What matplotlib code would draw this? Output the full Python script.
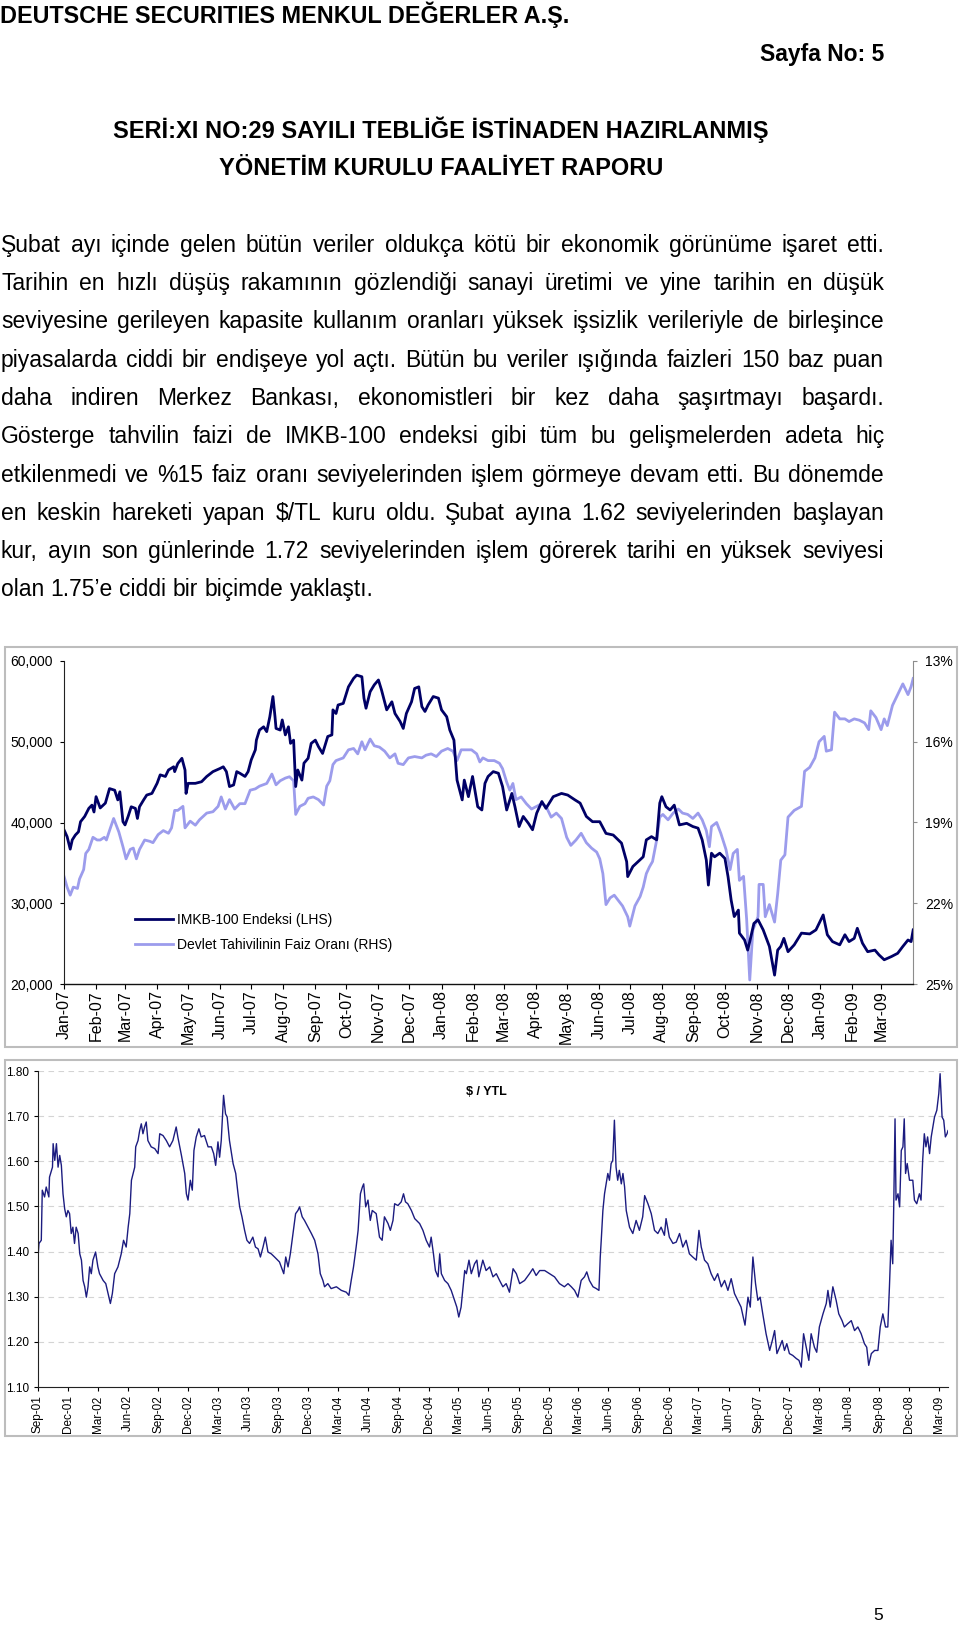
import numpy as np
import matplotlib
matplotlib.use('Agg')
import matplotlib.pyplot as plt
import matplotlib.dates as mdates
from matplotlib.patches import Rectangle
from matplotlib.ticker import FuncFormatter

# ---------------- data ----------------
header_title = "DEUTSCHE SECURITIES MENKUL DEĞERLER A.Ş."
page_label = "Sayfa No: 5"
title_lines = ["SERİ:XI NO:29 SAYILI TEBLİĞE İSTİNADEN HAZIRLANMIŞ",
               "YÖNETİM KURULU FAALİYET RAPORU"]
body_lines = [
    "Şubat ayı içinde gelen bütün veriler oldukça kötü bir ekonomik görünüme işaret etti.",
    "Tarihin en hızlı düşüş rakamının gözlendiği sanayi üretimi ve yine tarihin en düşük",
    "seviyesine gerileyen kapasite kullanım oranları yüksek işsizlik verileriyle de birleşince",
    "piyasalarda ciddi bir endişeye yol açtı. Bütün bu veriler ışığında faizleri 150 baz puan",
    "daha indiren Merkez Bankası, ekonomistleri bir kez daha şaşırtmayı başardı.",
    "Gösterge tahvilin faizi de IMKB-100 endeksi gibi tüm bu gelişmelerden adeta hiç",
    "etkilenmedi ve %15 faiz oranı seviyelerinden işlem görmeye devam etti. Bu dönemde",
    "en keskin hareketi yapan $/TL kuru oldu. Şubat ayına 1.62 seviyelerinden başlayan",
    "kur, ayın son günlerinde 1.72 seviyelerinden işlem görerek tarihi en yüksek seviyesi",
    "olan 1.75’e ciddi bir biçimde yaklaştı.",
]
page_number = "5"

# Chart 1: IMKB-100 index (LHS), days since 2007-01-01
chart1_start = "2007-01-01"
imkb_day = [0, 3, 6, 8, 11, 14, 16, 20, 24, 27, 29, 31, 35, 40, 44, 49, 52, 54, 57, 59,
            62, 65, 69, 71, 73, 77, 80, 85, 90, 93, 98, 101, 106, 107, 110, 114, 117, 118, 120, 127,
            133, 138, 144, 151, 154, 157, 160, 164, 167, 170, 175, 178, 181, 185, 186, 189, 193, 196, 199, 202,
            204, 205, 209, 211, 214, 217, 219, 222, 224, 226, 230, 232, 236, 239, 243, 246, 250, 255, 259, 260,
            263, 265, 270, 275, 280, 283, 288, 290, 292, 296, 300, 304, 307, 312, 317, 320, 325, 328, 331, 336,
            339, 343, 346, 349, 352, 357, 362, 365, 370, 373, 377, 380, 385, 387, 391, 395, 400,
            404, 407, 410, 415, 420, 424, 428, 433, 436, 440, 444, 449, 453, 457, 462, 466, 473, 481, 487,
            494, 499, 505, 511, 518, 524, 531, 539, 544, 545, 550, 555, 560, 563, 568, 573, 576, 578, 582, 586,
            590, 595, 602, 608, 613, 617, 621, 623, 626, 629, 634, 639, 642, 645, 648, 652, 653, 658, 661, 663,
            667, 671, 676, 682, 687, 690, 693, 696, 700, 706, 713, 721, 727, 734, 738, 743, 750, 755, 759, 764,
            767, 772, 777, 784, 788, 793, 800, 806, 811, 816, 819, 821]
imkb_val = [39100, 38250, 36700, 37850, 38450, 38850, 40100, 40750, 41750, 42150, 41300, 43200, 41800, 42400, 44200, 44000, 42800, 43800, 40100, 39700,
            40750, 41950, 41750, 40500, 41950, 42800, 43400, 43600, 44850, 45900, 45700, 46500, 46900, 46300, 47300, 47950, 46500, 43600, 44850, 44850,
            45050, 45700, 46300, 46700, 46900, 46300, 44450, 44650, 46300, 46100, 45700, 46300, 47750, 49000, 50200, 51450, 51850, 51250, 53100, 55600,
            53100, 51650, 51450, 52700, 50850, 51850, 49800, 50200, 44450, 46500, 45250, 47350, 47950, 49800, 50200, 49400, 48550, 50650, 50850, 53950,
            53500, 54550, 54750, 56800, 57850, 58250, 58050, 55400, 54150, 56200, 57050, 57650, 56400, 53950, 54950, 53500, 52500, 51650, 53500, 54950,
            56600, 56800, 54350, 53750, 54550, 55600, 55400, 53950, 53100, 51450, 50200, 45250, 42800, 45250, 43200, 45700, 41950,
            41550, 44850, 45700, 46300, 46100, 44450, 41550, 43600, 41950, 39500, 40750, 39900, 39100, 41150, 42600, 41750, 43200, 43600, 43400,
            42800, 42400, 40750, 40100, 40100, 38650, 38450, 37450, 35150, 33300, 34550, 35150, 35750, 37850, 38250, 37850, 42400, 43200, 41950, 41550,
            42150, 39700, 39900, 39500, 39300, 37850, 35350, 32250, 36200, 35750, 36200, 35550, 33300, 30400, 28350, 29150, 26300, 25450, 24200, 25250,
            27500, 27950, 26700, 24650, 21100, 24200, 24650, 25650, 24000, 24850, 26300, 26200, 26700, 28550, 26100, 25250, 24850, 26100, 25250, 25650,
            26900, 25050, 24000, 24200, 23600, 23000, 23400, 23800, 24650, 25450, 25250, 26700]

# Chart 1: government bond rate % (RHS, inverted)
rate_day = [0, 3, 6, 9, 13, 15, 19, 21, 24, 28, 32, 35, 39, 41, 44, 48, 51, 53, 57, 60,
            64, 67, 70, 73, 78, 83, 86, 91, 96, 101, 104, 107, 110, 115, 117, 122, 127, 131, 138, 144,
            149, 152, 156, 160, 165, 170, 175, 180, 185, 189, 196, 201, 205, 209, 214, 218, 222, 224, 228, 233,
            236, 241, 246, 251, 254, 257, 260, 263, 270, 275, 280, 284, 288, 291, 296, 300, 305, 310, 315, 320,
            323, 328, 333, 339, 346, 350, 355, 360, 365, 371, 376, 380, 384, 389, 394, 399, 402,
            405, 410, 416, 421, 424, 428, 431, 434, 437, 442, 447, 452, 457, 462, 466, 471, 476, 481, 486,
            490, 495, 500, 505, 510, 515, 518, 521, 524, 528, 532, 537, 540, 545, 547, 552, 557, 560, 563, 566,
            569, 573, 576, 579, 584, 589, 594, 598, 603, 608, 613, 617, 621, 624, 626, 631, 635, 640, 644, 647,
            651, 653, 657, 660, 663, 666, 671, 672, 676, 678, 682, 687, 690, 693, 697, 700, 706, 713, 716, 721,
            726, 730, 735, 737, 742, 745, 750, 755, 759, 764, 769, 774, 778, 780, 785, 790, 793, 796, 801, 806,
            811, 816, 819, 821]
rate_val = [21.0, 21.4, 21.7, 21.4, 21.45, 21.1, 20.75, 20.15, 20.0, 19.55, 19.65, 19.65, 19.55, 19.65, 19.3, 18.85, 19.15, 19.35, 19.9, 20.35,
            20.0, 19.95, 20.35, 20.0, 19.65, 19.7, 19.75, 19.45, 19.3, 19.4, 19.2, 18.55, 18.55, 18.4, 19.2, 18.95, 19.1, 18.9, 18.65, 18.6,
            18.4, 18.05, 18.5, 18.15, 18.5, 18.3, 18.3, 17.8, 17.75, 17.65, 17.55, 17.2, 17.6, 17.45, 17.35, 17.3, 17.45, 18.7, 18.4, 18.3,
            18.1, 18.05, 18.15, 18.35, 17.65, 17.45, 16.85, 16.7, 16.6, 16.3, 16.25, 16.45, 16.0, 16.3, 15.9, 16.15, 16.2, 16.35, 16.6, 16.45,
            16.8, 16.85, 16.6, 16.55, 16.6, 16.5, 16.45, 16.55, 16.35, 16.25, 16.35, 16.7, 16.3, 16.3, 16.3, 16.45, 16.75,
            16.6, 16.7, 16.7, 16.8, 17.0, 17.5, 17.8, 17.55, 18.15, 18.05, 18.3, 18.5, 18.4, 18.3, 18.4, 18.8, 18.65, 18.85, 19.55,
            19.85, 19.65, 19.4, 19.75, 19.95, 20.1, 20.35, 20.9, 22.05, 21.8, 21.7, 21.95, 22.1, 22.5, 22.85, 22.1, 21.75, 21.4, 20.9, 20.65,
            20.45, 19.65, 18.8, 18.7, 18.9, 18.65, 18.5, 18.65, 18.7, 18.85, 18.65, 18.9, 19.3, 19.9, 19.15, 19.0, 19.4, 20.0, 20.75, 20.15,
            20.0, 21.15, 21.0, 22.6, 24.85, 23.0, 22.5, 21.3, 21.3, 22.5, 22.05, 22.7, 21.65, 20.4, 20.2, 18.8, 18.55, 18.4, 17.1, 16.95,
            16.6, 16.0, 15.8, 16.35, 16.3, 14.9, 15.15, 15.15, 15.25, 15.15, 15.2, 15.3, 15.55, 14.85, 15.1, 15.55, 15.15, 15.4, 14.65, 14.25,
            13.85, 14.25, 13.95, 13.65]

# Chart 2: USD / YTL, days since 2001-09-01
chart2_start = "2001-09-01"
usd_day = [0, 3, 10, 13, 20, 25, 33, 35, 44, 46, 51, 56, 61, 66, 71, 76, 81, 86, 91, 96,
           101, 106, 111, 116, 122, 127, 132, 137, 142, 147, 152, 157, 162, 167, 175, 182, 187, 198, 206, 213,
           220, 226, 233, 243, 253, 260, 268, 274, 279, 284, 289, 294, 297, 304, 309, 314, 319, 324, 329, 334,
           344, 355, 365, 370, 380, 390, 400, 410, 420, 425, 436, 446, 451, 456, 463, 469, 474, 481, 489, 496,
           506, 517, 527, 534, 540, 547, 552, 557, 564, 570, 575, 582, 593, 601, 608, 613, 620, 628, 635, 643,
           653, 661, 669, 676, 684, 691, 699, 709, 719, 734, 747, 753, 760, 767, 775, 783, 790, 795, 803, 810,
           821, 831, 841, 851, 858, 866, 871, 881, 891, 907, 922, 937, 945, 952, 959, 967, 973, 980, 986, 990,
           996, 1003, 1010, 1016, 1028, 1038, 1046, 1053, 1064, 1071, 1079, 1084, 1094, 1104, 1111, 1117, 1124, 1135, 1145, 1160,
           1170, 1180, 1190, 1195, 1202, 1208, 1216, 1221, 1226, 1236, 1246, 1256, 1266, 1273, 1279, 1286, 1292, 1297, 1302, 1310,
           1317, 1327, 1334, 1340, 1352, 1362, 1373, 1383, 1393, 1403, 1413, 1423, 1433, 1444, 1454, 1464, 1479, 1494, 1504, 1514,
           1525, 1540, 1555, 1570, 1585, 1600, 1611, 1621, 1631, 1641, 1651, 1661, 1668, 1676, 1687, 1697, 1705, 1709, 1712, 1717,
           1722, 1727, 1732, 1737, 1742, 1747, 1752, 1757, 1762, 1767, 1773, 1778, 1783, 1788, 1798, 1808, 1818, 1828, 1838, 1844,
           1854, 1864, 1874, 1884, 1894, 1904, 1909, 1919, 1930, 1940, 1950, 1960, 1970, 1980, 1990, 2001, 2009, 2016, 2026, 2036,
           2046, 2056, 2066, 2077, 2087, 2097, 2107, 2117, 2127, 2137, 2149, 2158, 2165, 2173, 2181, 2188, 2195, 2203, 2213, 2224,
           2232, 2239, 2246, 2254, 2262, 2269, 2276, 2284, 2294, 2305, 2313, 2320, 2327, 2335, 2343, 2350, 2360, 2367, 2375, 2386,
           2396, 2401, 2408, 2416, 2426, 2434, 2444, 2451, 2461, 2472, 2482, 2492, 2502, 2512, 2519, 2525, 2533, 2543, 2553, 2560,
           2568, 2576, 2583, 2588, 2593, 2598, 2601, 2605, 2608, 2614, 2619, 2624, 2629, 2633, 2637, 2642, 2649, 2659, 2664, 2671,
           2679, 2684, 2689, 2694, 2699, 2704, 2710, 2715, 2720, 2725, 2732, 2738, 2742, 2748, 2753, 2758, 2763, 2766]
usd_val = [1.388, 1.418, 1.425, 1.536, 1.521, 1.543, 1.521, 1.565, 1.587, 1.639, 1.602, 1.639, 1.587, 1.613, 1.591, 1.528, 1.495, 1.477, 1.491, 1.484,
           1.440, 1.454, 1.418, 1.454, 1.440, 1.395, 1.381, 1.336, 1.322, 1.299, 1.322, 1.366, 1.351, 1.381, 1.399, 1.366, 1.351, 1.336, 1.329, 1.307,
           1.285, 1.307, 1.351, 1.366, 1.395, 1.425, 1.410, 1.454, 1.484, 1.558, 1.573, 1.587, 1.632, 1.646, 1.668, 1.683, 1.661, 1.676, 1.687, 1.646,
           1.632, 1.628, 1.617, 1.661, 1.657, 1.646, 1.632, 1.646, 1.676, 1.654, 1.613, 1.573, 1.528, 1.514, 1.558, 1.536, 1.624, 1.654, 1.672, 1.654,
           1.657, 1.632, 1.632, 1.617, 1.591, 1.643, 1.609, 1.646, 1.746, 1.705, 1.698, 1.646, 1.595, 1.573, 1.528, 1.499, 1.477, 1.447, 1.425, 1.418,
           1.432, 1.410, 1.406, 1.388, 1.410, 1.432, 1.399, 1.395, 1.388, 1.377, 1.351, 1.388, 1.366, 1.395, 1.440, 1.484, 1.491, 1.499, 1.477, 1.469,
           1.454, 1.440, 1.425, 1.395, 1.351, 1.336, 1.322, 1.329, 1.318, 1.322, 1.314, 1.310, 1.303, 1.336, 1.366, 1.410, 1.447, 1.528, 1.543, 1.550,
           1.499, 1.514, 1.469, 1.491, 1.484, 1.432, 1.425, 1.477, 1.462, 1.447, 1.469, 1.506, 1.502, 1.510, 1.528, 1.510, 1.506, 1.491, 1.473, 1.462,
           1.447, 1.425, 1.410, 1.432, 1.395, 1.358, 1.344, 1.395, 1.351, 1.336, 1.329, 1.314, 1.292, 1.277, 1.255, 1.277, 1.322, 1.358, 1.351, 1.381,
           1.351, 1.373, 1.381, 1.344, 1.381, 1.358, 1.366, 1.344, 1.351, 1.336, 1.322, 1.329, 1.310, 1.362, 1.351, 1.329, 1.336, 1.351, 1.362, 1.347,
           1.358, 1.358, 1.351, 1.344, 1.329, 1.322, 1.329, 1.322, 1.314, 1.299, 1.336, 1.344, 1.355, 1.336, 1.322, 1.318, 1.314, 1.388, 1.425, 1.491,
           1.528, 1.550, 1.573, 1.558, 1.595, 1.602, 1.691, 1.587, 1.558, 1.580, 1.550, 1.573, 1.543, 1.491, 1.454, 1.440, 1.469, 1.447, 1.477, 1.524,
           1.506, 1.484, 1.447, 1.440, 1.454, 1.436, 1.473, 1.432, 1.418, 1.421, 1.440, 1.410, 1.425, 1.395, 1.388, 1.381, 1.447, 1.410, 1.381, 1.373,
           1.351, 1.336, 1.351, 1.322, 1.336, 1.314, 1.340, 1.307, 1.292, 1.277, 1.237, 1.299, 1.277, 1.388, 1.329, 1.292, 1.299, 1.262, 1.218, 1.181,
           1.203, 1.225, 1.174, 1.188, 1.203, 1.181, 1.196, 1.174, 1.170, 1.163, 1.159, 1.144, 1.218, 1.188, 1.159, 1.218, 1.188, 1.177, 1.233, 1.262,
           1.285, 1.314, 1.277, 1.322, 1.292, 1.262, 1.247, 1.233, 1.240, 1.247, 1.225, 1.233, 1.218, 1.196, 1.188, 1.148, 1.174, 1.181, 1.181, 1.233,
           1.262, 1.233, 1.233, 1.322, 1.425, 1.373, 1.499, 1.694, 1.514, 1.528, 1.499, 1.624, 1.632, 1.694, 1.573, 1.595, 1.558, 1.558, 1.514, 1.506,
           1.528, 1.514, 1.602, 1.661, 1.632, 1.654, 1.617, 1.654, 1.676, 1.698, 1.713, 1.750, 1.794, 1.698, 1.691, 1.654, 1.661, 1.668]

legend_labels = ["IMKB-100 Endeksi (LHS)", "Devlet Tahivilinin Faiz Oranı (RHS)"]
chart2_label = "$ / YTL"
lhs_ticks = [20000, 30000, 40000, 50000, 60000]
rhs_ticks = [13, 16, 19, 22, 25]
usd_ticks = [1.10, 1.20, 1.30, 1.40, 1.50, 1.60, 1.70, 1.80]

# ---------------- figure ----------------
W, H = 960, 1626
plt.rcParams['font.family'] = ['Liberation Sans', 'DejaVu Sans']
fig = plt.figure(figsize=(W / 100, H / 100), dpi=100)
fig.patch.set_facecolor('white')


def fx(x):
    return x / W


def fy(y):
    return 1 - y / H


# header
fig.text(fx(0), fy(23), header_title, fontsize=16.8, fontweight='bold', ha='left', va='baseline')
fig.text(fx(884), fy(61), page_label, fontsize=16.5, fontweight='bold', ha='right', va='baseline')
fig.text(fx(441), fy(138), title_lines[0], fontsize=17, fontweight='bold', ha='center', va='baseline')
fig.text(fx(441), fy(175), title_lines[1], fontsize=17, fontweight='bold', ha='center', va='baseline')

# body paragraph (justified)
renderer = fig.canvas.get_renderer()
body_fs = 16.5
left_px, right_px = 1, 884
for i, line in enumerate(body_lines):
    yb = round(252 + 38.25 * i)
    words = line.split(' ')
    ts = [fig.text(0, fy(yb), w, fontsize=body_fs, ha='left', va='baseline', parse_math=False)
          for w in words]
    widths = [t.get_window_extent(renderer).width for t in ts]
    if i < len(body_lines) - 1 and len(words) > 1:
        gap = (right_px - left_px - sum(widths)) / (len(words) - 1)
    else:
        gap = 0.278 * body_fs * 100 / 72
    x = left_px
    for t, w in zip(ts, widths):
        t.set_x(fx(x))
        x += w + gap

# frames
fig.add_artist(Rectangle((fx(5), fy(1047)), (957 - 5) / W, (1047 - 647) / H,
                         transform=fig.transFigure, fill=False, edgecolor='#BDBDBD', lw=1.5))
fig.add_artist(Rectangle((fx(5), fy(1436)), (957 - 5) / W, (1436 - 1060) / H,
                         transform=fig.transFigure, fill=False, edgecolor='#BDBDBD', lw=1.5))

# ---------------- chart 1 ----------------
dark = '#000066'
light = '#9C9CEC'
ax1 = fig.add_axes([fx(64), fy(984), (913 - 64) / W, (984 - 661) / H])
ax1r = ax1.twinx()
ax1.set_zorder(ax1r.get_zorder() + 1)
ax1.patch.set_visible(False)

s1 = np.datetime64(chart1_start)
imkb_dates = s1 + np.array(imkb_day).astype('timedelta64[D]')
rate_dates = s1 + np.array(rate_day).astype('timedelta64[D]')
l1, = ax1.plot(imkb_dates, imkb_val, color=dark, lw=2.0, solid_joinstyle='round')
l2, = ax1r.plot(rate_dates, rate_val, color=light, lw=2.0, solid_joinstyle='round')

ax1.set_xlim(np.datetime64(chart1_start, 'h'), np.datetime64(chart1_start, 'h') + np.timedelta64(820 * 24 + 20, 'h'))
ax1.set_ylim(20000, 60000)
ax1.set_yticks(lhs_ticks)
ax1.yaxis.set_major_formatter(FuncFormatter(lambda v, p: f'{int(v):,}'))
ax1r.set_ylim(25, 13)
ax1r.set_yticks(rhs_ticks)
ax1r.yaxis.set_major_formatter(FuncFormatter(lambda v, p: f'{v:.0f}%'))

ax1.xaxis.set_major_locator(mdates.MonthLocator())
ax1.xaxis.set_major_formatter(mdates.DateFormatter('%b-%y'))
ax1.tick_params(axis='x', direction='out', length=3.5, width=0.8, pad=1, labelsize=11.5,
                labelrotation=90)
ax1.tick_params(axis='y', direction='out', length=3, width=0.8, pad=5, labelsize=10)
ax1r.tick_params(axis='y', direction='out', length=3, width=0.8, pad=5.5, labelsize=10,
                 colors='#8C8C8C', labelcolor='black')
for sp in ['top', 'right']:
    ax1.spines[sp].set_visible(False)
for sp in ['top', 'left', 'bottom']:
    ax1r.spines[sp].set_visible(False)
ax1r.spines['right'].set_color('#8C8C8C')
ax1.spines['left'].set_color('#222222')
ax1.spines['bottom'].set_color('#111111')
ax1.spines['bottom'].set_linewidth(1.0)
for lab in ax1.get_xticklabels():
    lab.set_va('top')

ax1.legend(handles=[l1, l2], labels=legend_labels, loc='upper left',
           bbox_to_anchor=(fx(135), fy(913)), bbox_transform=fig.transFigure,
           frameon=False, fontsize=10, handlelength=2.7, handletextpad=0.35,
           labelspacing=0.8, borderpad=0, borderaxespad=0)

# ---------------- chart 2 ----------------
ax2 = fig.add_axes([fx(38), fy(1387), (948 - 38) / W, (1387 - 1071) / H])
s2 = np.datetime64(chart2_start)
usd_dates = s2 + np.array(usd_day).astype('timedelta64[D]')
ax2.plot(usd_dates, usd_val, color='#1C1C80', lw=1.0)
ax2.set_xlim(s2, s2 + np.timedelta64(2766, 'D'))
ax2.set_ylim(1.10, 1.80)
ax2.set_yticks(usd_ticks)
ax2.yaxis.set_major_formatter(FuncFormatter(lambda v, p: f'{v:.2f}'))
ax2.grid(axis='y', color='#D4D4D4', lw=0.8, linestyle=(0, (5, 4)))
ax2.set_axisbelow(True)
ax2.xaxis.set_major_locator(mdates.MonthLocator(bymonth=[3, 6, 9, 12]))
ax2.xaxis.set_major_formatter(mdates.DateFormatter('%b-%y'))
ax2.tick_params(axis='x', direction='out', length=3, width=0.8, pad=3, labelsize=8.5,
                labelrotation=90)
ax2.tick_params(axis='y', direction='out', length=3, width=0.8, pad=3.5, labelsize=8.5)
for sp in ['top', 'right']:
    ax2.spines[sp].set_visible(False)
ax2.spines['left'].set_color('#222222')
ax2.spines['bottom'].set_color('#222222')
fig.text(fx(486), fy(1095), chart2_label, fontsize=9, fontweight='bold', ha='center',
         va='baseline', parse_math=False)

# page number
fig.text(fx(878), fy(1620), page_number, fontsize=12.5, ha='center', va='baseline')

fig.savefig('out.png', dpi=100, facecolor='white')
